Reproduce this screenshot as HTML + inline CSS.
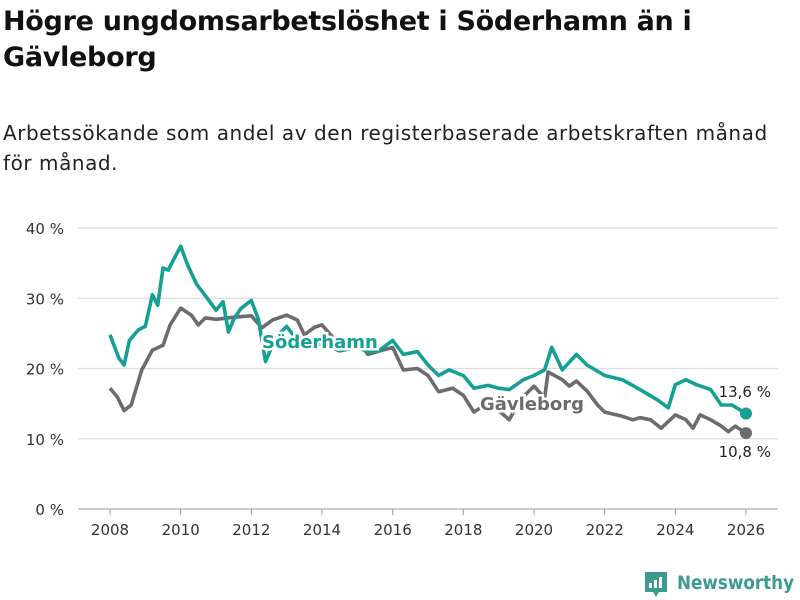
<!DOCTYPE html>
<html><head><meta charset="utf-8"><style>
body{margin:0;width:800px;height:600px;background:#fff;font-family:"Liberation Sans","DejaVu Sans",sans-serif;overflow:hidden;position:relative}
h1{position:absolute;left:3px;top:4px;margin:0;font:bold 27px/36px "DejaVu Sans",sans-serif;color:#111;width:790px;letter-spacing:-0.3px}
.sub{position:absolute;left:3px;top:118px;font:20px/30px "DejaVu Sans",sans-serif;color:#222;width:797px;letter-spacing:0.55px}
svg{position:absolute;left:0;top:0}
</style></head><body>
<h1>Högre ungdomsarbetslöshet i Söderhamn än i Gävleborg</h1>
<div class="sub">Arbetssökande som andel av den registerbaserade arbetskraften månad för månad.</div>
<svg id="c" width="800" height="600"></svg>
<script>
const yTicks=[0,10,20,30,40];
const xTicks=[2008,2010,2012,2014,2016,2018,2020,2022,2024,2026];
const sodT=[2008,2008.25,2008.4,2008.55,2008.8,2009,2009.2,2009.35,2009.5,2009.65,2009.8,2010,2010.2,2010.45,2010.6,2010.8,2011,2011.2,2011.35,2011.5,2011.7,2012,2012.2,2012.4,2012.6,2012.8,2013,2013.3,2013.6,2014,2014.5,2015,2015.3,2015.6,2016,2016.3,2016.7,2017,2017.3,2017.6,2018,2018.3,2018.7,2019,2019.3,2019.7,2020,2020.3,2020.5,2020.8,2021.2,2021.5,2022,2022.5,2023,2023.5,2023.8,2024,2024.3,2024.6,2025,2025.3,2025.6,2026];
const sodV=[24.8,21.5,20.5,24,25.5,26,30.5,29,34.3,34,35.5,37.4,34.7,32,31,29.7,28.3,29.5,25.2,27,28.5,29.7,27,21,23.3,25,26,24,23,23.5,22.5,23,22.4,22.5,24,22,22.4,20.5,19,19.8,19,17.2,17.6,17.2,17,18.4,19,19.8,23,19.8,22,20.5,19,18.4,17,15.5,14.4,17.7,18.4,17.7,17,14.8,14.8,13.6];
const gavT=[2008,2008.2,2008.4,2008.6,2008.9,2009.2,2009.5,2009.7,2010,2010.3,2010.5,2010.7,2011,2011.5,2012,2012.3,2012.6,2013,2013.3,2013.5,2013.8,2014,2014.5,2015,2015.3,2015.7,2016,2016.3,2016.7,2017,2017.3,2017.7,2018,2018.3,2018.6,2019,2019.3,2019.6,2020,2020.3,2020.4,2020.8,2021,2021.2,2021.5,2021.8,2022,2022.5,2022.8,2023,2023.3,2023.6,2024,2024.3,2024.5,2024.7,2025,2025.3,2025.5,2025.7,2026];
const gavV=[17.2,16,14,14.8,19.8,22.6,23.3,26.2,28.6,27.6,26.2,27.2,27,27.3,27.5,25.8,26.9,27.6,26.9,24.8,25.9,26.2,23.3,24,22,22.6,23,19.8,20,19,16.7,17.2,16.2,13.8,14.8,14,12.7,15.5,17.5,15.8,19.5,18.4,17.5,18.2,16.8,14.8,13.8,13.2,12.7,13,12.7,11.5,13.4,12.7,11.5,13.4,12.7,11.8,11,11.8,10.8];
const NS="http://www.w3.org/2000/svg",svg=document.getElementById('c');
const x=v=>110+(v-2008)*(636/18), y=v=>509-v*7.025;
function mk(t,a,p){const e=document.createElementNS(NS,t);for(const k in a)e.setAttribute(k,a[k]);(p||svg).appendChild(e);return e;}
yTicks.forEach(t=>{
 const l=mk('line',{x1:78,x2:778,y1:y(t),y2:y(t),stroke:t===0?'#bbb':'#ddd','stroke-width':t===0?1.5:1.2});
 
 
 const tx=mk('text',{x:64,y:y(t)+6,'text-anchor':'end','font-size':15,fill:'#333','font-family':'DejaVu Sans,sans-serif'});tx.textContent=t+' %';
 
 
});
xTicks.forEach(t=>{
 const l=mk('line',{x1:x(t),x2:x(t),y1:509,y2:515,stroke:'#999'});
 
 
 const tx=mk('text',{x:x(t),y:535,'text-anchor':'middle','font-size':15,fill:'#333','font-family':'DejaVu Sans,sans-serif'});tx.textContent=t;
 
 
});
function line(T,V,col,name){
 const d=T.map((t,i)=>(i?'L':'M')+x(t).toFixed(1)+','+y(V[i]).toFixed(1)).join('');
 const p=mk('path',{d:d,fill:'none',stroke:col,'stroke-width':3.6,'stroke-linejoin':'round'});
 
 
 const c=mk('circle',{cx:x(T[T.length-1]),cy:y(V[V.length-1]),r:6,fill:col});
 
 
}
line(gavT,gavV,'#6d6b70','gavleborg');
line(sodT,sodV,'#14a093','soderhamn');
function lab(t,xx,yy,col,name,bold,anchor,size){
 const e=mk('text',{x:xx,y:yy,fill:col,'font-size':size,'font-weight':bold?'bold':'normal','text-anchor':anchor||'start','font-family':'DejaVu Sans,sans-serif',stroke:'#fff','stroke-width':bold?5:0,'paint-order':'stroke'});
 e.textContent=t;
 
 
}
lab('Söderhamn',262,348,'#14a093','soderhamn-label',true,'start',18);
lab('Gävleborg',480,410,'#6d6b70','gavleborg-label',true,'start',18);
lab('13,6 %',771,397,'#222','soderhamn-value',false,'end',15);
lab('10,8 %',771,457,'#222','gavleborg-value',false,'end',15);
const g=mk('g',{});


mk('path',{d:'M645,572 h22 v20 h-8 l-3,5 l-3,-5 h-8 z',fill:'#3d9a8e'},g);
[[649,583,3,5],[654,580,3,8],[659,577,3,11]].forEach(r=>mk('rect',{x:r[0],y:r[1],width:r[2],height:r[3],fill:'#fff'},g));
const tt=mk('text',{x:677,y:589,fill:'#3d9a8e','font-size':19,'font-weight':'bold','font-family':'DejaVu Sans,sans-serif',textLength:117,lengthAdjust:'spacingAndGlyphs'},g);tt.textContent='Newsworthy';
</script>
</body></html>
